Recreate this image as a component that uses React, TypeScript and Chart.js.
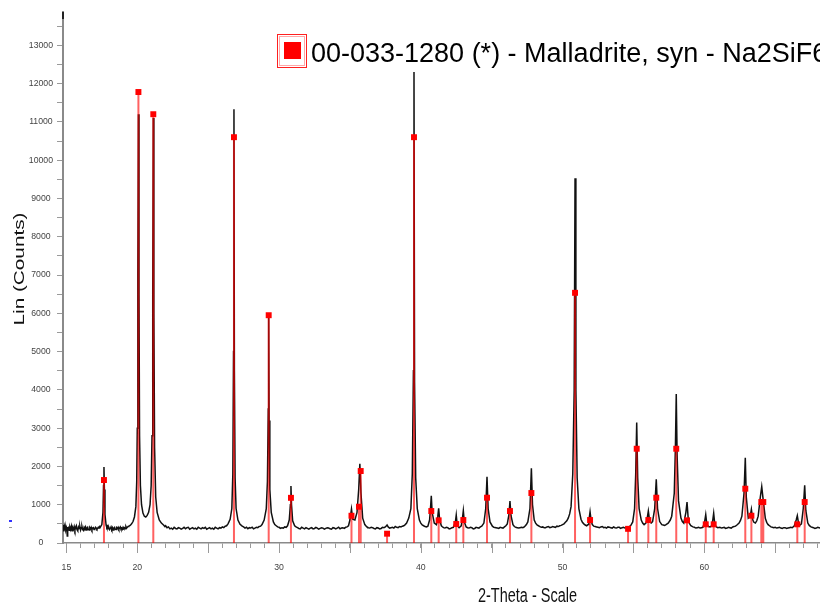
import React, { useEffect, useRef } from 'react';
import { Chart, registerables } from 'chart.js';

Chart.register(...registerables);

// ---------- DATA ----------
const scanLow: [number, number][] = [
  [14.78, 470], [14.82, 300], [14.85, 410], [14.89, 330], [14.92, 440], [14.96, 350], [15.0, 400],
  [15.04, 300], [15.06, 180], [15.09, 420], [15.12, 360], [15.16, 430], [15.2, 330], [15.25, 410],
  [15.3, 350], [15.35, 440], [15.4, 320], [15.45, 400], [15.5, 360], [15.55, 430], [15.6, 340],
  [15.65, 410], [15.7, 450], [15.75, 350], [15.8, 320], [15.85, 420], [15.9, 380], [15.95, 430],
  [16.0, 340], [16.05, 400], [16.1, 430], [16.15, 350], [16.2, 330], [16.25, 410], [16.3, 380],
  [16.35, 420], [16.4, 340], [16.45, 390], [16.5, 410], [16.55, 350], [16.6, 340], [16.65, 400],
  [16.7, 370], [16.75, 410], [16.8, 350], [16.85, 390], [16.9, 400], [16.95, 350], [17.0, 370],
  [17.05, 410], [17.1, 390], [17.15, 360], [17.2, 380], [17.25, 410], [17.3, 390], [17.35, 430],
  [17.4, 420], [17.5, 480], [17.58, 800], [17.62, 1500], [17.65, 1985], [17.68, 1400], [17.72, 750],
  [17.8, 470], [17.85, 410], [17.9, 440], [17.95, 370], [18.0, 400], [18.05, 350], [18.1, 380],
  [18.15, 420], [18.2, 360], [18.25, 400], [18.3, 340], [18.35, 390], [18.4, 410], [18.45, 360],
  [18.5, 350], [18.55, 400], [18.6, 380], [18.65, 410], [18.7, 360], [18.75, 390], [18.8, 420],
  [18.85, 370], [18.9, 390], [18.95, 360], [19.0, 410], [19.05, 380], [19.1, 400], [19.15, 370],
  [19.2, 430], [19.25, 390], [19.3, 410], [19.35, 430], [19.4, 440], [19.5, 460], [19.6, 500],
  [19.7, 560], [19.8, 680], [19.9, 950], [19.96, 1600], [20.0, 3000], [20.04, 7000], [20.08, 11200],
  [20.12, 6500], [20.16, 2800], [20.22, 1500], [20.3, 1000], [20.4, 780], [20.5, 700], [20.6, 680],
  [20.7, 720], [20.8, 800], [20.9, 1000], [20.98, 1500], [21.04, 2800], [21.09, 6500], [21.13, 11100],
  [21.17, 6000], [21.22, 2500], [21.3, 1200], [21.4, 800], [21.55, 600], [21.7, 520], [21.85, 470],
  [21.95, 430], [22.0, 450], [22.1, 400], [22.2, 420], [22.3, 370], [22.4, 390], [22.5, 360],
  [22.6, 410], [22.7, 380], [22.8, 370], [22.9, 400], [23.0, 390], [23.1, 360], [23.2, 380],
  [23.3, 410], [23.4, 370], [23.5, 400], [23.6, 410], [23.7, 360], [23.8, 380], [23.9, 400],
  [24.0, 370], [24.1, 390], [24.2, 360], [24.3, 410], [24.4, 390], [24.5, 370], [24.6, 400],
  [24.7, 380], [24.8, 410], [24.9, 360], [25.0, 380], [25.1, 400], [25.2, 370], [25.3, 390],
  [25.4, 360], [25.5, 410], [25.6, 390], [25.7, 370], [25.8, 400], [25.9, 390], [26.0, 420],
  [26.1, 400],
];
const scanMid: [number, number][] = [
  [26.2, 440], [26.3, 450], [26.4, 500], [26.55, 620], [26.67, 900], [26.74, 1800], [26.79, 5000],
  [26.82, 11330], [26.85, 4500], [26.9, 1700], [26.97, 900], [27.1, 600], [27.25, 490], [27.4, 440],
  [27.5, 420], [27.6, 390], [27.7, 410], [27.8, 370], [27.9, 400], [28.0, 390], [28.1, 410],
  [28.2, 370], [28.3, 390], [28.4, 410], [28.5, 400], [28.6, 430], [28.7, 440], [28.8, 480],
  [28.95, 600], [29.1, 900], [29.18, 1600], [29.24, 3500], [29.27, 5900], [29.3, 3200], [29.35, 1400],
  [29.45, 800], [29.6, 550], [29.7, 480], [29.8, 450], [29.9, 420], [30.0, 410], [30.1, 380],
  [30.2, 400], [30.3, 390], [30.4, 420], [30.5, 410], [30.6, 450], [30.72, 600], [30.8, 1000],
  [30.84, 1490], [30.88, 1000], [30.96, 580], [31.1, 450], [31.2, 420], [31.3, 400], [31.4, 380],
  [31.5, 370], [31.6, 410], [31.7, 390], [31.8, 370], [31.9, 400], [32.0, 380], [32.1, 360],
  [32.2, 390], [32.3, 400], [32.4, 370], [32.5, 380], [32.6, 410], [32.7, 390], [32.8, 360],
  [32.9, 380], [33.0, 400], [33.1, 390], [33.2, 360], [33.3, 380], [33.4, 400], [33.5, 390],
  [33.6, 370], [33.7, 360], [33.8, 400], [33.9, 390], [34.0, 370], [34.1, 390], [34.2, 410],
  [34.3, 370], [34.4, 390], [34.5, 400], [34.6, 380], [34.7, 410], [34.8, 420], [34.9, 450],
  [35.0, 600], [35.11, 890], [35.2, 620], [35.35, 600], [35.5, 800], [35.62, 1400], [35.7, 2070],
  [35.78, 1300], [35.9, 650], [36.05, 480], [36.15, 440], [36.2, 420], [36.3, 400], [36.4, 390],
  [36.5, 410], [36.6, 400], [36.7, 380], [36.8, 370], [36.9, 400], [37.0, 390], [37.1, 370],
  [37.2, 380], [37.3, 410], [37.4, 400], [37.5, 420], [37.62, 470], [37.7, 420], [37.8, 390],
  [37.9, 400], [38.0, 410], [38.1, 390], [38.2, 430], [38.3, 410], [38.4, 400], [38.5, 430],
  [38.6, 420], [38.7, 440], [38.8, 450], [38.9, 480], [39.0, 520], [39.15, 650], [39.3, 900],
  [39.4, 1800], [39.48, 4500], [39.52, 12300], [39.56, 4200], [39.64, 1700], [39.75, 900], [39.9, 600],
];
const scanHigh: [number, number][] = [
  [40.0, 520], [40.1, 470], [40.2, 450], [40.3, 430], [40.4, 420], [40.5, 440], [40.62, 600],
  [40.7, 1000], [40.74, 1235], [40.8, 800], [40.95, 520], [41.1, 480], [41.2, 700], [41.26, 905],
  [41.33, 600], [41.45, 450], [41.5, 430], [41.6, 400], [41.7, 390], [41.8, 410], [41.9, 400],
  [42.0, 370], [42.1, 380], [42.2, 400], [42.3, 410], [42.44, 550], [42.5, 730], [42.56, 500],
  [42.65, 420], [42.7, 400], [42.85, 450], [42.94, 650], [43.0, 843], [43.07, 550], [43.2, 420],
  [43.3, 400], [43.4, 390], [43.5, 410], [43.6, 400], [43.7, 370], [43.8, 380], [43.9, 410],
  [44.0, 400], [44.1, 390], [44.2, 420], [44.3, 440], [44.45, 520], [44.58, 900], [44.67, 1730],
  [44.75, 900], [44.88, 550], [45.05, 440], [45.15, 410], [45.3, 400], [45.4, 390], [45.5, 380],
  [45.6, 410], [45.7, 400], [45.8, 390], [45.9, 420], [46.0, 450], [46.1, 500], [46.22, 750],
  [46.29, 1097], [46.36, 720], [46.5, 480], [46.6, 430], [46.7, 410], [46.8, 400], [46.9, 390],
  [47.0, 400], [47.1, 410], [47.2, 400], [47.3, 420], [47.45, 480], [47.55, 550], [47.7, 900],
  [47.8, 1950], [47.88, 1000], [48.0, 600], [48.1, 520], [48.2, 470], [48.3, 450], [48.4, 430],
  [48.5, 410], [48.6, 420], [48.7, 400], [48.8, 400], [48.9, 420], [49.0, 430], [49.1, 400],
  [49.2, 410], [49.3, 430], [49.4, 420], [49.5, 410], [49.6, 440], [49.7, 430], [49.8, 450],
  [49.9, 460], [50.0, 480], [50.1, 500], [50.2, 540], [50.3, 580], [50.4, 650], [50.5, 760],
  [50.6, 950], [50.72, 1800], [50.82, 4000], [50.88, 9530], [50.94, 4000], [51.03, 1700], [51.15, 900],
  [51.3, 620], [51.4, 540], [51.5, 500], [51.6, 470], [51.7, 450], [51.8, 480], [51.86, 600],
  [51.94, 817], [52.02, 580], [52.1, 480],
];
const scanTail: [number, number][] = [
  [52.2, 440], [52.3, 430], [52.4, 420], [52.5, 410], [52.6, 400], [52.7, 420], [52.8, 430],
  [52.9, 400], [53.0, 410], [53.1, 390], [53.2, 420], [53.3, 410], [53.4, 400], [53.5, 390],
  [53.6, 420], [53.7, 400], [53.8, 390], [53.9, 410], [54.0, 410], [54.1, 380], [54.2, 400],
  [54.3, 410], [54.4, 390], [54.5, 400], [54.6, 410], [54.7, 430], [54.8, 450], [54.95, 550],
  [55.08, 900], [55.16, 1800], [55.23, 3150], [55.3, 1700], [55.4, 900], [55.55, 600], [55.65, 520],
  [55.75, 480], [55.88, 520], [55.95, 600], [56.05, 835], [56.15, 550], [56.25, 520], [56.35, 560],
  [56.5, 900], [56.61, 1663], [56.7, 900], [56.85, 560], [57.0, 480], [57.1, 470], [57.2, 460],
  [57.3, 480], [57.45, 520], [57.6, 600], [57.7, 700], [57.88, 1300], [57.96, 2500], [58.02, 3890],
  [58.08, 2300], [58.18, 1100], [58.35, 650], [58.45, 560], [58.55, 520], [58.7, 800], [58.78, 1070],
  [58.86, 650], [58.95, 510], [59.05, 450], [59.2, 420], [59.3, 410], [59.4, 390], [59.5, 400],
  [59.6, 410], [59.7, 390], [59.8, 400], [59.9, 410], [60.02, 550], [60.1, 740], [60.18, 480],
  [60.3, 430], [60.4, 420], [60.5, 440], [60.58, 550], [60.66, 775], [60.74, 480], [60.85, 420],
  [60.95, 400], [61.1, 410], [61.2, 390], [61.3, 400], [61.4, 410], [61.5, 380], [61.6, 390],
  [61.7, 410], [61.8, 400], [61.9, 390], [62.0, 420], [62.1, 430], [62.2, 440], [62.3, 470],
  [62.45, 520], [62.55, 590], [62.65, 700], [62.8, 1300], [62.89, 2227], [62.96, 1200], [63.1, 650],
  [63.24, 700], [63.32, 880], [63.42, 600], [63.5, 540], [63.6, 520], [63.7, 580], [63.8, 700],
  [63.95, 1200], [64.05, 1470], [64.16, 1100], [64.3, 650], [64.4, 540], [64.5, 480], [64.6, 450],
  [64.7, 420], [64.8, 410], [64.9, 400], [65.0, 410], [65.1, 390], [65.2, 400], [65.3, 410],
  [65.4, 390], [65.5, 380], [65.6, 400], [65.7, 400], [65.8, 380], [65.9, 390], [66.0, 400],
  [66.1, 410], [66.2, 400], [66.35, 450], [66.48, 600], [66.56, 713], [66.65, 500], [66.75, 470],
  [66.85, 500], [66.98, 900], [67.08, 1506], [67.16, 850], [67.3, 520], [67.4, 460], [67.5, 430],
  [67.6, 410], [67.7, 400], [67.8, 380], [67.9, 390], [68.0, 410], [68.1, 400], [68.2, 390],
];

// Reference pattern 00-033-1280 (Malladrite) stick positions and intensities
const stickAngles = [
  17.65, 20.08, 21.13, 26.82, 29.27, 30.84, 35.11, 35.64, 35.76, 37.62, 39.52, 40.74, 41.26,
  42.5, 43.0, 44.67, 46.29, 47.8, 50.88, 51.94, 54.62, 55.23, 56.05, 56.61, 58.02, 58.78,
  60.1, 60.66, 62.89, 63.32, 64.02, 64.16, 66.56, 67.08,
];
const stickCounts = [
  1645, 11780, 11200, 10600, 5950, 1180, 712, 948, 1880, 243, 10600, 835, 592,
  496, 600, 1183, 835, 1305, 6535, 600, 370, 2462, 600, 1183, 2462, 592,
  488, 488, 1418, 713, 1070, 1070, 488, 1070,
];

const xLabelTicks = [15, 20, 30, 40, 50, 60];
const xMajorTicks = [15, 20, 25, 30, 35, 40, 45, 50, 55, 60, 65];
const yLabelStep = 1000;
const yTickStep = 500;

const xTitle = '2-Theta - Scale';
const yTitle = 'Lin (Counts)';
const legendLabel = '00-033-1280 (*) - Malladrite, syn - Na2SiF6';

const FONT = '"Liberation Sans", Arial, Helvetica, sans-serif';

// ---------- DECORATION PLUGIN ----------
const decorPlugin = {
  id: 'xrdDecor',
  afterDraw(chart: any) {
    const ctx: CanvasRenderingContext2D = chart.ctx;
    const xs = chart.scales.x;
    const ys = chart.scales.y;
    const base = ys.getPixelForValue(0);
    const area = chart.chartArea;
    ctx.save();

    // longer major ticks on x axis
    ctx.strokeStyle = '#9a9a9a';
    ctx.lineWidth = 1;
    xMajorTicks.forEach((v) => {
      const px = Math.round(xs.getPixelForValue(v)) + 0.5;
      ctx.beginPath();
      ctx.moveTo(px, base);
      ctx.lineTo(px, base + 10);
      ctx.stroke();
    });

    // dark stub at top of y axis
    ctx.strokeStyle = '#222';
    ctx.lineWidth = 2;
    ctx.beginPath();
    ctx.moveTo(area.left, area.top);
    ctx.lineTo(area.left, area.top + 7);
    ctx.stroke();

    // small marks left of the axis, as in the original scan window
    ctx.fillStyle = '#3030ff';
    ctx.fillRect(9, 520, 3, 2);
    ctx.fillStyle = '#999';
    ctx.fillRect(9, 527, 3, 1);

    // axis titles (stretched vertically like the original)
    ctx.fillStyle = '#111';
    ctx.font = `14.5px ${FONT}`;
    ctx.textAlign = 'center';
    ctx.textBaseline = 'middle';
    ctx.save();
    ctx.translate(20, 269);
    ctx.rotate(-Math.PI / 2);
    ctx.scale(1.43, 1);
    ctx.fillText(yTitle, 0, 0);
    ctx.restore();

    ctx.save();
    ctx.translate(527.5, 601.5);
    ctx.scale(1, 1.43);
    ctx.textBaseline = 'alphabetic';
    ctx.fillText(xTitle, 0, 0);
    ctx.restore();

    // legend
    ctx.strokeStyle = '#ff2020';
    ctx.lineWidth = 1;
    ctx.strokeRect(277.5, 34.5, 29, 33);
    ctx.strokeStyle = 'rgba(255,80,80,0.5)';
    ctx.strokeRect(279.5, 36.5, 25, 29);
    ctx.fillStyle = '#ff0000';
    ctx.fillRect(284, 42, 17, 17);
    ctx.fillStyle = '#000';
    ctx.font = `27px ${FONT}`;
    ctx.textAlign = 'left';
    ctx.textBaseline = 'alphabetic';
    ctx.fillText(legendLabel, 311, 62);

    ctx.restore();
  },
};

export default function App() {
  const canvasRef = useRef<HTMLCanvasElement | null>(null);

  useEffect(() => {
    const canvas = canvasRef.current;
    if (!canvas) return;

    const scan = [...scanLow, ...scanMid, ...scanHigh, ...scanTail].map(([x, y]) => ({ x, y }));
    const sticks: { x: number; y: number | null }[] = [];
    stickAngles.forEach((a, i) => {
      sticks.push({ x: a, y: 0 });
      sticks.push({ x: a, y: stickCounts[i] });
      sticks.push({ x: a, y: null });
    });
    const markers = stickAngles.map((a, i) => ({ x: a, y: stickCounts[i] }));

    const chart = new Chart(canvas, {
      type: 'line',
      data: {
        datasets: [
          {
            label: 'markers',
            type: 'scatter',
            data: markers,
            pointStyle: 'rect',
            pointRadius: 4.2,
            pointHoverRadius: 4.2,
            backgroundColor: '#ff0000',
            borderWidth: 0,
            order: 1,
          } as any,
          {
            label: 'sticks',
            data: sticks,
            borderColor: 'rgba(255,0,0,0.62)',
            borderWidth: 2,
            pointRadius: 0,
            spanGaps: false,
            order: 2,
          },
          {
            label: 'scan',
            data: scan,
            borderColor: '#111',
            borderWidth: 1.5,
            pointRadius: 0,
            tension: 0,
            order: 3,
          },
        ],
      },
      options: {
        animation: false,
        responsive: false,
        devicePixelRatio: 1,
        layout: { autoPadding: false, padding: { top: 12, left: 0, right: 0, bottom: 0 } },
        plugins: {
          legend: { display: false },
          tooltip: { enabled: false },
          title: { display: false },
        },
        scales: {
          x: {
            type: 'linear',
            position: 'bottom',
            min: 14.76,
            max: 68.16,
            afterBuildTicks: (s: any) => {
              const t = [];
              for (let v = 15; v <= 68; v++) t.push({ value: v });
              s.ticks = t;
            },
            afterFit: (s: any) => {
              s.height = 61;
              s.paddingLeft = 0;
              s.paddingRight = 0;
            },
            ticks: {
              autoSkip: false,
              maxRotation: 0,
              padding: 14,
              color: '#444',
              font: { size: 8.7, family: FONT },
              callback: (v: any) => (xLabelTicks.includes(Number(v)) ? String(v) : ''),
            },
            grid: {
              display: true,
              drawOnChartArea: false,
              drawTicks: true,
              tickLength: 5,
              color: '#9a9a9a',
              lineWidth: 1,
            },
            border: { display: true, color: '#8a8a8a', width: 1.5 },
          },
          y: {
            type: 'linear',
            position: 'left',
            min: 0,
            max: 13870,
            afterBuildTicks: (s: any) => {
              const t = [];
              for (let v = 0; v <= 13500; v += yTickStep) t.push({ value: v });
              s.ticks = t;
            },
            afterFit: (s: any) => {
              s.width = 63;
              s.paddingTop = 0;
              s.paddingBottom = 0;
            },
            ticks: {
              autoSkip: false,
              crossAlign: 'center',
              padding: 4,
              color: '#444',
              font: { size: 8.7, family: FONT },
              callback: (v: any) => (Number(v) % yLabelStep === 0 ? String(v) : ''),
            },
            grid: {
              display: true,
              drawOnChartArea: false,
              drawTicks: true,
              tickLength: 6,
              color: '#9a9a9a',
              lineWidth: 1,
            },
            border: { display: true, color: '#8a8a8a', width: 2 },
          },
        },
      },
      plugins: [decorPlugin],
    });

    return () => chart.destroy();
  }, []);

  return (
    <div style={{ position: 'fixed', left: 0, top: 0, width: 820, height: 604, background: '#fff' }}>
      <canvas ref={canvasRef} width={820} height={604} style={{ display: 'block' }} />
    </div>
  );
}
